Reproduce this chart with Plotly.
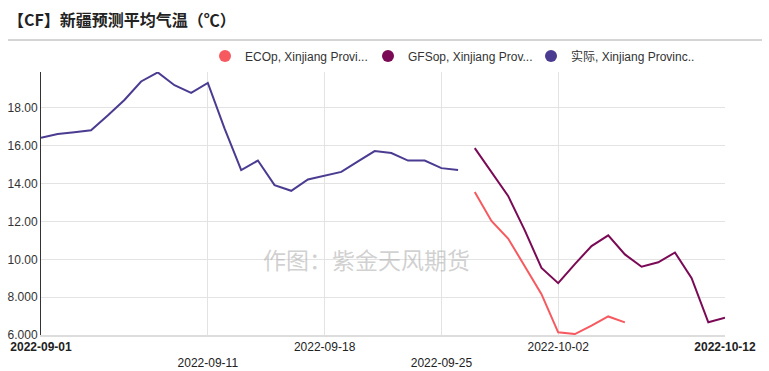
import pandas as pd
import plotly.graph_objects as go

# ---- data ----
actual_dates = pd.date_range("2022-09-01", periods=26, freq="D")
actual_vals = [16.42, 16.62, 16.72, 16.82, 17.6, 18.42, 19.4, 19.88, 19.2, 18.8,
               19.32, 16.92, 14.72, 15.22, 13.92, 13.62, 14.22, 14.42, 14.62, 15.18,
               15.72, 15.62, 15.22, 15.22, 14.82, 14.72]

gfs_dates = pd.date_range("2022-09-27", periods=16, freq="D")
gfs_vals = [15.88, 14.62, 13.35, 11.53, 9.54, 8.74, 9.75, 10.7, 11.27, 10.26,
            9.61, 9.84, 10.36, 9.0, 6.67, 6.91]

eco_dates = pd.date_range("2022-09-27", periods=10, freq="D")
eco_vals = [13.56, 12.03, 11.1, 9.63, 8.16, 6.14, 6.05, 6.5, 6.98, 6.67]

series_names = ["ECOp, Xinjiang Provi...", "GFSop, Xinjiang Prov...", "实际, Xinjiang Provinc..."]
series_colors = ["#f65a60", "#7a0a55", "#4b3b91"]

x_tickvals = ["2022-09-01", "2022-09-11", "2022-09-18", "2022-09-25", "2022-10-02", "2022-10-12"]
x_ticktext = ["<b>2022-09-01</b>", "<br>2022-09-11", "2022-09-18", "<br>2022-09-25", "2022-10-02", "<b>2022-10-12</b>"]
y_tickvals = [6, 8, 10, 12, 14, 16, 18]
y_ticktext = ["6.000", "8.000", "10.00", "12.00", "14.00", "16.00", "18.00"]

title_text = "【CF】新疆预测平均气温（℃）"
watermark = "作图：紫金天风期货"

# ---- figure ----
fig = go.Figure()
for d, v, c in [(eco_dates, eco_vals, series_colors[0]),
                (gfs_dates, gfs_vals, series_colors[1]),
                (actual_dates, actual_vals, series_colors[2])]:
    fig.add_trace(go.Scatter(x=d, y=v, mode="lines", line=dict(color=c, width=2),
                             showlegend=False, hoverinfo="x+y"))
for n, c in zip(series_names, series_colors):
    fig.add_trace(go.Scatter(x=[None], y=[None], mode="markers", name=n,
                             marker=dict(color=c, size=12, symbol="circle")))

W, H = 769, 371
L, R, T, B = 41, 44, 72, 36
ph = H - T - B
pw = W - L - R

fig.update_layout(
    width=W, height=H,
    margin=dict(l=L, r=R, t=T, b=B, autoexpand=False),
    paper_bgcolor="white", plot_bgcolor="white",
    font=dict(family="Liberation Sans, Arial, Noto Sans CJK SC", size=12, color="#333"),
    title=dict(text="<b>" + title_text + "</b>", x=8 / W, xref="container", xanchor="left",
               y=1 - 20 / H, yref="container", yanchor="middle",
               font=dict(family="Noto Sans CJK SC", size=16, color="#222")),
    legend=dict(orientation="h", xref="container", yref="container",
                x=205 / W, xanchor="left", y=1 - 56 / H, yanchor="middle",
                font=dict(size=12, color="#333"), entrywidth=118, entrywidthmode="pixels",
                itemsizing="constant", bgcolor="rgba(0,0,0,0)"),
    xaxis=dict(type="date", range=["2022-09-01", "2022-10-12"], tickvals=x_tickvals, ticktext=x_ticktext,
               showgrid=True, gridcolor="#e3e3e3", gridwidth=1, showline=True, linecolor="#dddddd",
               linewidth=2, ticks="", zeroline=False, automargin=False,
               tickfont=dict(size=12, color="#222")),
    yaxis=dict(range=[6, 19.9], tickvals=y_tickvals, ticktext=y_ticktext, showgrid=True,
               gridcolor="#e3e3e3", gridwidth=1, showline=True, linecolor="#333", linewidth=1,
               ticks="", zeroline=False, automargin=False, tickfont=dict(size=12, color="#333")),
    shapes=[dict(type="line", xref="paper", yref="paper", x0=(8 - L) / pw, x1=(762 - L) / pw,
                 y0=1 + 32 / ph, y1=1 + 32 / ph, line=dict(color="#aaaaaa", width=1))],
    annotations=[dict(text=watermark, xref="paper", yref="paper", x=(366 - L) / pw, y=(335 - 259) / ph,
                      xanchor="center", yanchor="middle", showarrow=False,
                      font=dict(size=23, color="rgba(170,170,170,0.55)", family="Noto Sans CJK SC"))],
)

fig.write_html("out.html", config={"displayModeBar": False},
               post_script="document.body.style.margin='0';document.body.style.overflow='hidden';")
